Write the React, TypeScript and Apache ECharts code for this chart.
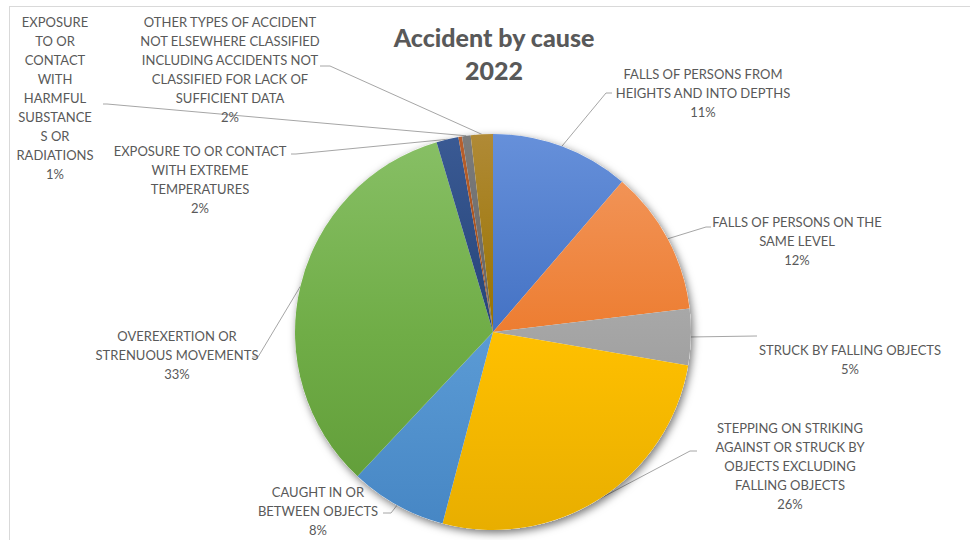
import React, { useEffect, useRef } from "react";
import * as echarts from "echarts";

const titleLines = ["Accident by cause", "2022"];

const categories = [
  "FALLS OF PERSONS FROM\nHEIGHTS AND INTO DEPTHS",
  "FALLS OF PERSONS ON THE\nSAME LEVEL",
  "STRUCK BY FALLING OBJECTS",
  "STEPPING ON STRIKING\nAGAINST OR STRUCK BY\nOBJECTS EXCLUDING\nFALLING OBJECTS",
  "CAUGHT IN OR\nBETWEEN OBJECTS",
  "OVEREXERTION OR\nSTRENUOUS MOVEMENTS",
  "EXPOSURE TO OR CONTACT\nWITH EXTREME\nTEMPERATURES",
  "EXPOSURE TO OR CONTACT WITH ELECTRIC CURRENT",
  "EXPOSURE\nTO OR\nCONTACT\nWITH\nHARMFUL\nSUBSTANCE\nS OR\nRADIATIONS",
  "OTHER TYPES OF ACCIDENT\nNOT ELSEWHERE CLASSIFIED\nINCLUDING ACCIDENTS NOT\nCLASSIFIED FOR LACK OF\nSUFFICIENT DATA",
];

const values = [11.3, 11.8, 4.6, 26.4, 7.9, 33.4, 1.8, 0.3, 0.7, 1.8];

const showLabel = [true, true, true, true, true, true, true, false, true, true];

// styles
const topColors = ["#6690DA", "#F39A62", "#BDBDBD", "#FFD04A", "#74ADE0", "#88C066", "#3A5A94", "#B8602E", "#7C7C7C", "#B08A36"];
const midColors = ["#4472C4", "#ED7D31", "#A5A5A5", "#FFC000", "#5B9BD5", "#70AD47", "#264478", "#9E480E", "#636363", "#997300"];
const bottomColors = ["#3A63B0", "#DA6A1E", "#8E8E8E", "#E8AE00", "#4686C4", "#5E9A36", "#1D3865", "#8A3C08", "#555555", "#836200"];

// label layout: [centerX, topY, leaderMidX, leaderMidY, leaderEndX, leaderEndY]
const labelPos = [
  [703, 64, 606, 93, 612, 93],
  [797, 212, 706, 227, 711, 227],
  [850, 340, 756, 336, 757, 336],
  [790, 418, 690, 451, 697, 451],
  [318, 482, 391, 513, 383, 513],
  [177, 326, 258, 357, 252, 357],
  [200, 141, 296, 154, 291, 154],
  [0, 0, 0, 0, 0, 0],
  [55, 12, 107, 104, 103, 104],
  [230, 12, 330, 66, 320, 66],
];

const CX = 493;
const CY = 332;
const R = 198;

export default function App() {
  const ref = useRef<HTMLDivElement>(null);
  useEffect(() => {
    if (!ref.current) return;
    const chart = echarts.init(ref.current, undefined, { renderer: "svg" });
    const total = values.reduce((a, b) => a + b, 0);
    const font = "Lato, 'Open Sans', sans-serif";
    const option: any = {
      animation: false,
      backgroundColor: "#ffffff",
      title: {
        text: titleLines.join("\n"),
        left: 494,
        top: 20,
        padding: 0,
        textAlign: "center",
        textStyle: {
          fontFamily: font,
          fontWeight: 900,
          fontSize: 25,
          lineHeight: 33,
          color: "#595959",
        },
      },
      graphic: [
        { type: "line", shape: { x1: 9, y1: 6.5, x2: 970, y2: 6.5 }, style: { stroke: "#D9D9D9", lineWidth: 1 }, silent: true },
        { type: "line", shape: { x1: 9.5, y1: 6, x2: 9.5, y2: 540 }, style: { stroke: "#D9D9D9", lineWidth: 1 }, silent: true },
      ],
      series: [
        {
          type: "pie",
          silent: true,
          center: [CX, CY],
          radius: R,
          startAngle: 90,
          label: { show: false },
          labelLine: { show: false },
          itemStyle: {
            color: "#ffffff",
            shadowBlur: 8,
            shadowColor: "rgba(0,0,0,0.55)",
            shadowOffsetX: 2,
            shadowOffsetY: 3,
          },
          data: [{ value: total, name: "" }],
        },
        {
          type: "pie",
          center: [CX, CY],
          radius: R,
          startAngle: 90,
          clockwise: true,
          avoidLabelOverlap: false,
          data: values.map((v, i) => ({
            value: v,
            name: categories[i],
            itemStyle: {
              color: new echarts.graphic.LinearGradient(0, CY - R, 0, CY + R, [
                { offset: 0, color: topColors[i] },
                { offset: 0.5, color: midColors[i] },
                { offset: 1, color: bottomColors[i] },
              ], true),
            },
            label: { show: showLabel[i] },
            labelLine: { show: showLabel[i] },
          })),
          itemStyle: { borderWidth: 0 },
          label: {
            show: true,
            position: "outside",
            formatter: (p: any) => `${p.name}\n${Math.round((p.value / total) * 100)}%`,
            fontFamily: font,
            fontSize: 13,
            lineHeight: 19,
            color: "#595959",
            align: "center",
          },
          labelLine: {
            show: true,
            lineStyle: { color: "#A6A6A6", width: 1 },
            smooth: false,
          },
          labelLayout: (params: any) => {
            const i = params.dataIndex;
            const lp = labelPos[i];
            if (!showLabel[i]) return {};
            const start = params.labelLinePoints ? params.labelLinePoints[0] : [CX, CY];
            return {
              x: lp[0],
              y: lp[1],
              align: "center",
              verticalAlign: "top",
              labelLinePoints: [start, [lp[2], lp[3]], [lp[4], lp[5]]],
            };
          },
        },
      ],
    };
    chart.setOption(option);
    return () => chart.dispose();
  }, []);
  return (
    <div
      ref={ref}
      style={{ position: "fixed", left: 0, top: 0, width: 970, height: 540 }}
    />
  );
}
